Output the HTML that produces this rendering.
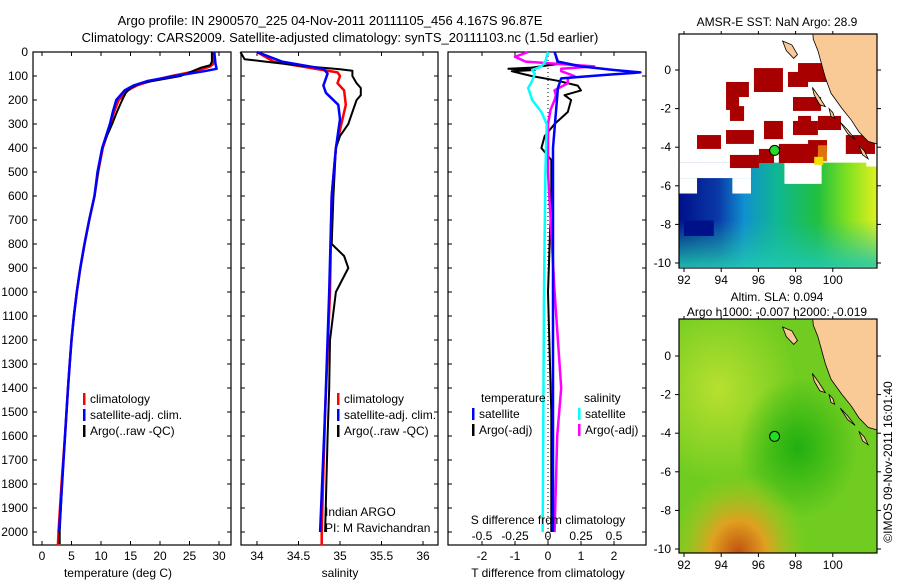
<!DOCTYPE html>
<html><head><meta charset="utf-8"><style>
body{margin:0;background:#fff;}
svg{font-family:"Liberation Sans",sans-serif;}
text{font-size:12px;fill:#000;}
</style></head><body>
<svg id="s" width="900" height="580" xmlns="http://www.w3.org/2000/svg">
<defs>
<linearGradient id="sstg" x1="0" x2="1" y1="0" y2="0">
<stop offset="0" stop-color="#00108a"/><stop offset="0.2" stop-color="#0a3aa8"/><stop offset="0.33" stop-color="#1090d0"/><stop offset="0.5" stop-color="#10b890"/><stop offset="0.7" stop-color="#20c040"/><stop offset="0.85" stop-color="#80e020"/><stop offset="1" stop-color="#e0f020"/></linearGradient>
<linearGradient id="sstb" x1="0" x2="0" y1="0" y2="1"><stop offset="0" stop-color="#20c0a0" stop-opacity="0"/><stop offset="0.55" stop-color="#20c0a0" stop-opacity="0"/><stop offset="1" stop-color="#20c8b0" stop-opacity="0.9"/></linearGradient>
<radialGradient id="sla1" cx="0.3" cy="1" r="0.35"><stop offset="0" stop-color="#c05010"/><stop offset="0.4" stop-color="#e0a020"/><stop offset="1" stop-color="#a0d020" stop-opacity="0"/></radialGradient>
<radialGradient id="sla2" cx="0.2" cy="0.3" r="0.4"><stop offset="0" stop-color="#b8e030"/><stop offset="1" stop-color="#b8e030" stop-opacity="0"/></radialGradient>
<radialGradient id="sla3" cx="0.6" cy="0.55" r="0.3"><stop offset="0" stop-color="#20b010"/><stop offset="1" stop-color="#20b010" stop-opacity="0"/></radialGradient>
</defs>
<text x="330" y="25" text-anchor="middle" style="font-size:13px">Argo profile: IN 2900570_225 04-Nov-2011 20111105_456 4.167S 96.87E</text>
<text x="340" y="42" text-anchor="middle" style="font-size:13px">Climatology: CARS2009. Satellite-adjusted climatology: synTS_20111103.nc (1.5d earlier)</text>
<g id="g"></g>
<text x="0" y="0" transform="translate(892,462) rotate(-90)" text-anchor="middle">©IMOS 09-Nov-2011 16:01:40</text>
</svg>
<script>
// ---- data ----
const depthTicks=[0,100,200,300,400,500,600,700,800,900,1000,1100,1200,1300,1400,1500,1600,1700,1800,1900,2000];
const tempTicks=[0,5,10,15,20,25,30];
const salTicks=[34,34.5,35,35.5,36];
const tdTicks=[-2,-1,0,1,2];
const sdTicks=[-0.5,-0.25,0,0.25,0.5];
const tArgoD=[0,40,55,65,80,100,120,130,150,170,200,250,300,350,400,500,600,700,800,900,1000,1100,1200,1300,1400,1600,1800,2000,2050];
const tArgo=[28.8,28.8,28.5,27,25.5,23.5,19,16.8,15,14.2,13.6,12.7,11.9,11.0,10.2,9.5,8.9,8.0,7.2,6.5,5.9,5.4,5.0,4.7,4.4,3.9,3.4,3.0,3.0];
const tClimD=[0,50,60,80,100,120,140,160,200,250,300,400,500,600,700,800,900,1000,1100,1200,1300,1400,1600,1800,2000,2055];
const tClim=[29,29,28.5,26,22,18.5,16,14.5,13.0,12.2,11.6,10.3,9.5,8.9,8.0,7.2,6.5,5.9,5.4,5.0,4.7,4.4,3.9,3.3,2.8,2.7];
const tSatD=[0,50,70,80,100,120,140,160,200,250,300,400,500,600,700,800,900,1000,1100,1200,1300,1400,1600,1800,2000];
const tSat=[29.2,29.4,29.6,27.5,22.5,18,15.5,14,12.6,12.0,11.5,10.2,9.4,8.9,8.0,7.2,6.5,5.9,5.4,5.0,4.7,4.4,3.9,3.4,2.9];
const sArgoD=[0,30,40,60,72,78,100,130,150,180,200,250,300,350,400,600,800,850,900,1000,1200,1400,1600,2000];
const sArgo=[33.8,33.85,34.1,34.6,35.0,35.15,35.15,35.2,35.25,35.25,35.2,35.15,35.1,35.0,34.95,34.92,34.9,35.05,35.1,34.95,34.88,34.87,34.85,34.82];
const sClimD=[0,40,70,85,100,130,160,220,280,400,600,1000,1500,2000,2055];
const sClim=[34.0,34.2,34.7,34.97,35.0,34.97,35.05,35.07,35.03,34.95,34.9,34.88,34.82,34.78,34.78];
const sSatD=[0,40,70,90,140,170,220,280,400,600,1000,1500,2000];
const sSat=[34.0,34.3,34.8,34.85,34.8,34.83,34.98,35.0,34.95,34.9,34.87,34.82,34.76];
const dtSatD=[0,40,60,75,85,95,110,150,400,1000,2000];
const dtSat=[0.2,0.3,1.0,2.0,2.8,1.8,0.4,0.3,0.15,0.15,0.15];
const dtArgoD=[0,50,65,70,75,80,90,100,120,140,160,180,200,250,300,350,400,450,600,1000,1500,2000];
const dtArgo=[0.2,0.3,-0.5,-1.2,-0.4,-1.1,-0.8,-0.5,0.3,0.9,1.0,0.5,0.7,0.6,0.2,-0.1,-0.2,0.1,0.1,0.0,0.1,0.1];
const dsSatD=[0,40,60,75,90,120,150,200,250,300,500,1000,2000];
const dsSat=[0.0,-0.02,-0.05,-0.12,-0.1,-0.12,-0.15,-0.12,-0.05,-0.01,-0.02,-0.03,-0.04];
const dsArgoD=[0,20,40,60,70,80,100,110,130,160,180,200,240,300,500,1000,1400,1600,2000];
const dsArgo=[-0.15,-0.25,-0.17,0.35,0.1,0.1,0.2,0.15,0.15,0.05,0.06,0.05,0.02,0.0,0.0,0.05,0.1,0.07,0.05];
const latTicks=[0,-2,-4,-6,-8,-10];
const lonTicks=[92,94,96,98,100];
// dark red SST cells [lon0,lat0,lon1,lat1]
const hotCells=[[98.13,0.36,100.23,-0.62],[95.76,0.10,97.32,-1.14],[97.59,-0.10,98.67,-0.88],[94.26,-0.62,95.49,-1.40],[94.26,-1.40,94.96,-2.07],[94.47,-1.87,95.23,-2.64],[97.86,-1.40,99.37,-2.12],[98.13,-2.38,98.83,-2.69],[99.2,-2.38,100.44,-3.11],[97.86,-2.64,99.2,-3.37],[96.3,-2.64,97.32,-3.58],[92.7,-3.37,93.99,-4.09],[94.26,-3.11,95.76,-3.83],[97.1,-3.83,99.2,-4.82],[98.67,-3.63,99.69,-4.30],[96.03,-4.09,96.84,-4.82],[94.47,-4.40,96.03,-5.08],[100.7,-3.37,102.27,-4.35]];
const argoLon=96.87, argoLat=-4.167;

// ---- helpers ----
const NS='http://www.w3.org/2000/svg';
const G=document.getElementById('g');
function mk(tag,at,parent){const e=document.createElementNS(NS,tag);for(const k in at)e.setAttribute(k,at[k]);(parent||G).appendChild(e);return e;}
const yTop=52,yBot=545;
const yD=d=>yTop+d*0.24;
const xT=t=>42+t*5.9;
const xS=s=>257+(s-34)*83;
const xDT=v=>548+v*33;
const xDS=v=>548+v*132;
function line(xs,ds,fx,color,w,name){
  const pts=xs.map((v,i)=>fx(v).toFixed(1)+','+yD(ds[i]).toFixed(1)).join(' ');
  const p=mk('polyline',{points:pts,fill:'none',stroke:color,'stroke-width':w,'stroke-linejoin':'round'});
  
  
}
function txt(x,y,s,anchor,name,size){const t=mk('text',{x:x,y:y,'text-anchor':anchor||'start'});if(size)t.style.fontSize=size+'px';t.textContent=s;return t;}
function box(x0,x1,y0,y1,name){const r=mk('rect',{x:x0,y:y0,width:x1-x0,height:y1-y0,fill:'none',stroke:'#000','stroke-width':1.2});}
function tickAxes(x0,x1,xfun,ticks,labels,name){
  ticks.forEach((t,i)=>{const x=xfun(t);mk('line',{x1:x,x2:x,y1:yBot,y2:yBot-4,stroke:'#000'});mk('line',{x1:x,x2:x,y1:yTop,y2:yTop+4,stroke:'#000'});
    if(labels)txt(x,560,labels[i],'middle',name+'-tick-label');});
  depthTicks.forEach(d=>{mk('line',{x1:x0,x2:x0+4,y1:yD(d),y2:yD(d),stroke:'#000'});mk('line',{x1:x1,x2:x1-4,y1:yD(d),y2:yD(d),stroke:'#000'});});
}
// ---- panel 1 temperature ----
box(33,231,yTop,yBot,'temperature-panel');
tickAxes(33,231,xT,tempTicks,tempTicks.map(String),'temperature');
depthTicks.forEach(d=>txt(28,yD(d)+4,String(d),'end','depth-tick-label'));
line(tClim,tClimD,xT,'#f00',2.5,'temp-climatology-line');
line(tArgo,tArgoD,xT,'#000',2,'temp-argo-line');
line(tSat,tSatD,xT,'#00f',2.5,'temp-satellite-line');
txt(118,577,'temperature (deg C)','middle','temperature-axis-title');
function legend(x,y,items,name){items.forEach((it,i)=>{const r=mk('rect',{x:x,y:y+i*16-10,width:2.5,height:12,fill:it[1]});txt(x+7,y+i*16,it[0],'start',name+'-label');});}
legend(83,403,[['climatology','#f00'],['satellite-adj. clim.','#00f'],['Argo(..raw -QC)','#000']],'temp-legend');
// ---- panel 2 salinity ----
box(241,438,yTop,yBot,'salinity-panel');
tickAxes(241,438,xS,salTicks,['34','34.5','35','35.5','36'],'salinity');
line(sClim,sClimD,xS,'#f00',2.5,'sal-climatology-line');
line(sArgo,sArgoD,xS,'#000',2,'sal-argo-line');
line(sSat,sSatD,xS,'#00f',2.5,'sal-satellite-line');
txt(340,577,'salinity','middle','salinity-axis-title');
legend(337,403,[['climatology','#f00'],['satellite-adj. clim.','#00f'],['Argo(..raw -QC)','#000']],'sal-legend');
txt(325,516,'Indian ARGO','start','indian-argo-label');
txt(325,532,'PI: M Ravichandran','start','pi-label');
// ---- panel 3 differences ----
box(448,646,yTop,yBot,'difference-panel');
tickAxes(448,646,xDT,tdTicks,['-2','-1','0','1','2'],'tdiff');
{const d=mk('line',{x1:548,x2:548,y1:yTop,y2:yBot,stroke:'#000','stroke-dasharray':'1,3'});}
line(dtArgo,dtArgoD,xDT,'#000',2,'tdiff-argo-line');
line(dsArgo,dsArgoD,xDS,'#f0f',2.5,'sdiff-argo-line');
line(dtSat,dtSatD,xDT,'#00f',2.5,'tdiff-satellite-line');
line(dsSat,dsSatD,xDS,'#0ff',2.5,'sdiff-satellite-line');
txt(548,577,'T difference from climatology','middle','tdiff-axis-title');
txt(548,524,'S difference from climatology','middle','sdiff-axis-title');
sdTicks.forEach((v,i)=>txt(xDS(v),540,['-0.5','-0.25','0','0.25','0.5'][i],'middle','sdiff-tick-label'));
txt(481,402,'temperature','start','temp-diff-legend-title');
txt(584,402,'salinity','start','sal-diff-legend-title');
legend(472,418,[['satellite','#00f'],['Argo(-adj)','#000']],'tdiff-legend');
legend(578,418,[['satellite','#0ff'],['Argo(-adj)','#f0f']],'sdiff-legend');
// ---- maps ----
const mx=lon=>684+(lon-92)*18.6;
function drawMap(y0,yZero,name,fill){
  const my=lat=>yZero-lat*19.3;
  const x0=679,x1=877,y1=y0+234;
  const clip=mk('clipPath',{id:'c'+name});mk('rect',{x:x0,y:y0,width:x1-x0,height:y1-y0},clip);
  const g=mk('g',{'clip-path':'url(#c'+name+')'});
  fill(g,my);
  const coast=[[98.9,2.2],[98.95,1.6],[99.2,1.0],[99.4,0.3],[99.6,-0.4],[99.9,-1.2],[100.5,-2.0],[101.0,-2.6],[101.4,-3.2],[101.9,-3.7],[103,-4],[103,3],[98.9,3]];
  const land=mk('polygon',{points:coast.map(p=>mx(p[0])+','+my(p[1])).join(' '),fill:'#f9c996',stroke:'#000','stroke-width':0.8},g);
  
  const isl=[[[97.3,1.5],[97.8,1.3],[98.1,0.8],[97.9,0.6],[97.5,1.0]],[[98.9,-0.9],[99.2,-1.3],[99.6,-1.9],[99.3,-1.8],[99.0,-1.3]],[[99.8,-2.0],[100.0,-2.2],[100.1,-2.5],[99.9,-2.4]],[[100.4,-2.7],[100.8,-3.1],[101.2,-3.6],[100.8,-3.3]],[[101.4,-3.9],[101.7,-4.2],[101.9,-4.6],[101.6,-4.4]]];
  isl.forEach(s=>{const p=mk('polygon',{points:s.map(q=>mx(q[0])+','+my(q[1])).join(' '),fill:'#f9c996',stroke:'#000','stroke-width':0.8},g);});
  const dot=mk('circle',{cx:mx(argoLon),cy:my(argoLat),r:5,fill:'#2d2',stroke:'#000'});
  
  box(x0,x1,y0,y1,name+'-frame');
  latTicks.forEach(l=>{const y=my(l);mk('line',{x1:x0,x2:x0-4,y1:y,y2:y,stroke:'#000'});mk('line',{x1:x1,x2:x1+4,y1:y,y2:y,stroke:'#000'});txt(x0-8,y+4,String(l),'end',name+'-lat-label');});
  lonTicks.forEach(l=>{const x=mx(l);mk('line',{x1:x,x2:x,y1:y1,y2:y1+4,stroke:'#000'});mk('line',{x1:x,x2:x,y1:y0,y2:y0-3,stroke:'#000'});txt(x,y1+16,String(l),'middle',name+'-lon-label');});
}
txt(777,26,'AMSR-E SST: NaN Argo: 28.9','middle','sst-map-title');
drawMap(34,70,'sst-map',(g,my)=>{
  mk('rect',{x:679,y:my(-4.8),width:198,height:my(-10.2)-my(-4.8),fill:'url(#sstg)'},g);
  mk('rect',{x:679,y:my(-4.8),width:198,height:my(-10.2)-my(-4.8),fill:'url(#sstb)'},g);
  mk('rect',{x:mx(91.5),y:my(-4.8),width:mx(95.6)-mx(91.5),height:my(-5.6)-my(-4.8),fill:'#fff'},g);
  mk('rect',{x:mx(91.5),y:my(-5.6),width:mx(92.7)-mx(91.5),height:my(-6.4)-my(-5.6),fill:'#fff'},g);
  mk('rect',{x:mx(94.6),y:my(-5.6),width:mx(95.6)-mx(94.6),height:my(-6.4)-my(-5.6),fill:'#fff'},g);
  mk('rect',{x:mx(97.4),y:my(-4.8),width:mx(99.4)-mx(97.4),height:my(-5.9)-my(-4.8),fill:'#fff'},g);
  mk('rect',{x:mx(101.8),y:my(-4.8),width:20,height:my(-5.0)-my(-4.8),fill:'#fff'},g);
  mk('rect',{x:mx(92),y:my(-7.8),width:mx(93.6)-mx(92),height:my(-8.6)-my(-7.8),fill:'#001088'},g);
  hotCells.forEach(c=>{const r=mk('rect',{x:mx(Math.min(c[0],c[2])),y:my(c[1]),width:Math.abs(mx(c[2])-mx(c[0])),height:my(c[3])-my(c[1]),fill:'#a80000'},g);});
  mk('rect',{x:mx(99.2),y:my(-3.9),width:9,height:16,fill:'#e07010'},g);
  mk('rect',{x:mx(99.0),y:my(-4.5),width:9,height:8,fill:'#f0e000'},g);
});
txt(777,301,'Altim. SLA: 0.094','middle','sla-map-title');
txt(777,316,'Argo h1000: -0.007 h2000: -0.019','middle','sla-map-subtitle');
drawMap(319,356,'sla-map',(g,my)=>{
  mk('rect',{x:679,y:319,width:198,height:234,fill:'#70cc20'},g);
  mk('rect',{x:679,y:319,width:198,height:234,fill:'url(#sla2)'},g);
  mk('rect',{x:679,y:319,width:198,height:234,fill:'url(#sla3)'},g);
  mk('rect',{x:679,y:319,width:198,height:234,fill:'url(#sla1)'},g);
});
</script>
</body></html>
